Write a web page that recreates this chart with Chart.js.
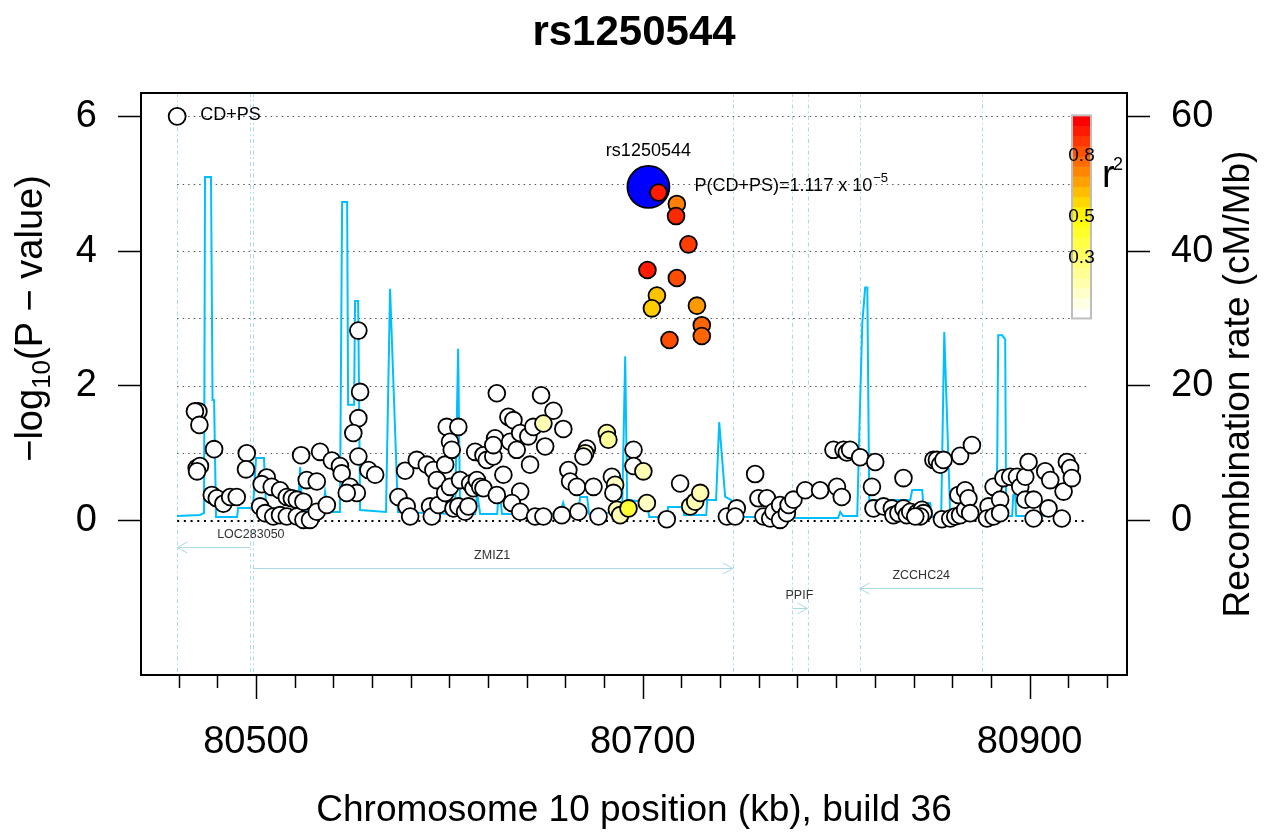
<!DOCTYPE html>
<html>
<head>
<meta charset="utf-8">
<script src="https://cdn.jsdelivr.net/npm/chart.js@4.4.1/dist/chart.umd.min.js"></script>
<style>
  html, body { margin: 0; padding: 0; background: #fff; }
  canvas { display: block; }
</style>
</head>
<body>
<canvas id="c" width="1276" height="836"></canvas>
<script>
const F = "'Liberation Sans', Arial, Helvetica, sans-serif";

// ---- data ----
const snpName = 'rs1250544';
const traitName = 'CD+PS';
const leadPos = 80702.9;
const leadP = 1.117e-5;

const snpPos = [
  80470.2, 80468.4, 80470.7, 80478.3, 80469.3, 80471.0, 80469.5, 80477.1, 80479.7, 80483.1,
  80486.6, 80490.0, 80495.2, 80494.8, 80523.3, 80533.1, 80539.2, 80543.4, 80544.3, 80505.5,
  80502.9, 80508.1, 80512.4, 80515.9, 80518.5, 80502.1, 80504.7, 80508.9, 80512.4, 80515.9,
  80521.1, 80524.5, 80527.9, 80531.4, 80536.6, 80521.1, 80524.5, 80526.2, 80531.4, 80548.6,
  80552.1, 80546.9, 80552.9, 80558.1, 80561.6, 80552.9, 80550.3, 80553.8, 80552.9, 80577.1,
  80573.6, 80577.9, 80579.7, 80583.1, 80588.3, 80591.7, 80593.5, 80597.8, 80598.6, 80604.6,
  80600.3, 80601.2, 80590.0, 80590.9, 80594.3, 80597.8, 80600.3, 80602.1, 80604.6, 80608.1,
  80609.8, 80605.5, 80610.7, 80612.4, 80614.2, 80615.9, 80617.6, 80613.3, 80617.6, 80619.3,
  80622.7, 80623.6, 80622.7, 80624.5, 80630.5, 80633.1, 80627.9, 80624.5, 80631.4, 80634.8,
  80636.6, 80640.8, 80643.4, 80641.7, 80636.6, 80632.3, 80636.6, 80644.3, 80647.4, 80653.8,
  80658.9, 80648.6, 80649.5, 80671.1, 80670.2, 80669.3, 80661.5, 80662.4, 80665.9, 80674.5,
  80681.4, 80682.2, 80684.0, 80685.7, 80684.8, 80658.1, 80666.7, 80677.1, 80648.6, 80686.6,
  80688.3, 80692.6, 80695.2, 80695.2, 80700.3, 80702.1, 80712.4, 80719.3, 80724.5, 80727.1,
  80729.7, 80743.5, 80748.6, 80747.8, 80758.1, 80759.8, 80764.2, 80762.4, 80765.9, 80767.6,
  80771.0, 80771.0, 80774.5, 80775.4, 80777.9, 80784.0, 80791.7, 80800.4, 80802.9, 80798.6,
  80803.8, 80805.5, 80807.2, 80812.4, 80820.2, 80818.5, 80819.3, 80824.5, 80828.8, 80829.6,
  80832.2, 80834.8, 80836.5, 80838.3, 80841.7, 80844.3, 80845.2, 80843.5, 80834.8, 80850.3,
  80852.1, 80853.8, 80855.5, 80864.1, 80870.2, 80840.9, 80854.7, 80859.0, 80861.6, 80864.1,
  80866.7, 80863.2, 80866.7, 80868.4, 80869.3, 80878.8, 80881.4, 80878.0, 80881.4, 80884.8,
  80884.8, 80886.5, 80890.0, 80893.5, 80895.2, 80897.8, 80899.5, 80897.8, 80902.1, 80902.1,
  80909.8, 80908.1, 80910.7, 80917.6, 80919.3, 80921.0, 80921.9, 80916.7,
  80708.1, 80717.6, 80717.2, 80723.6, 80702.4, 80717.6, 80707.3, 80704.7, 80728.0, 80730.5,
  80730.5, 80713.8
];
const snpLogP = [
  1.62, 1.62, 1.42, 1.06, 0.78, 0.81, 0.73, 0.38, 0.33, 0.25,
  0.35, 0.35, 1.00, 0.76, 0.97, 1.02, 0.89, 0.81, 0.70, 0.64,
  0.54, 0.50, 0.45, 0.35, 0.33, 0.21, 0.11, 0.06, 0.08, 0.06,
  0.06, 0.01, 0.01, 0.13, 0.23, 0.31, 0.28, 0.60, 0.58, 0.50,
  0.41, 0.41, 0.95, 0.75, 0.68, 1.52, 1.30, 1.91, 2.82, 0.74,
  0.35, 0.21, 0.06, 0.90, 0.83, 0.75, 0.60, 0.83, 1.39, 1.39,
  1.17, 1.05, 0.21, 0.06, 0.23, 0.41, 0.50, 0.18, 0.21, 0.13,
  0.21, 0.60, 0.55, 0.48, 0.60, 0.50, 0.48, 1.02, 0.97, 0.90,
  0.95, 1.22, 1.12, 1.89, 1.54, 1.49, 0.68, 0.38, 1.17, 1.05,
  1.30, 1.25, 1.39, 0.83, 0.43, 0.26, 0.13, 0.06, 1.86, 1.63,
  1.36, 1.44, 1.10, 1.07, 1.00, 0.95, 0.75, 0.58, 0.50, 0.50,
  1.30, 1.20, 0.65, 0.53, 0.41, 0.08, 0.13, 0.06, 0.06, 0.16,
  0.08, 0.18, 1.05, 0.81, 0.73, 0.26, 0.02, 0.55, 0.21, 0.28,
  0.41, 0.06, 0.18, 0.06, 0.69, 0.33, 0.33, 0.06, 0.03, 0.13,
  0.23, 0.01, 0.11, 0.23, 0.31, 0.45, 0.45, 0.50, 0.35, 1.05,
  1.05, 1.01, 1.05, 0.94, 0.87, 0.50, 0.18, 0.21, 0.18, 0.08,
  0.11, 0.18, 0.08, 0.13, 0.11, 0.16, 0.11, 0.06, 0.63, 0.90,
  0.90, 0.83, 0.90, 0.96, 1.12, 0.06, 0.02, 0.03, 0.06, 0.08,
  0.16, 0.38, 0.45, 0.33, 0.11, 0.21, 0.50, 0.03, 0.06, 0.31,
  0.11, 0.63, 0.65, 0.65, 0.50, 0.65, 0.87, 0.31, 0.31, 0.03,
  0.18, 0.73, 0.60, 0.43, 0.87, 0.78, 0.63, 0.03,
  4.87, 4.70, 4.52, 4.10, 3.72, 3.60, 3.34, 3.15, 3.19, 2.90,
  2.74, 2.68
];
const snpR2 = [
  0, 0, 0, 0, 0, 0, 0, 0, 0, 0,
  0, 0, 0, 0, 0, 0, 0, 0, 0, 0,
  0, 0, 0, 0, 0, 0, 0, 0, 0, 0,
  0, 0, 0, 0, 0, 0, 0, 0, 0, 0,
  0, 0, 0, 0, 0, 0, 0, 0, 0, 0,
  0, 0, 0, 0, 0, 0, 0, 0, 0, 0,
  0, 0, 0, 0, 0, 0, 0, 0, 0, 0,
  0, 0, 0, 0, 0, 0, 0, 0, 0, 0,
  0, 0, 0, 0, 0, 0, 0, 0, 0, 0,
  0, 0, 0, 0, 0, 0, 0, 0, 0, 0,
  0, 0.15, 0, 0, 0.12, 0, 0, 0, 0, 0,
  0.18, 0.2, 0, 0.12, 0, 0, 0, 0, 0, 0.15,
  0.15, 0.4, 0, 0, 0.15, 0.12, 0, 0, 0.12, 0.15,
  0.15, 0, 0, 0, 0, 0, 0, 0, 0, 0,
  0, 0, 0, 0, 0, 0, 0, 0, 0, 0,
  0, 0, 0, 0, 0, 0, 0, 0, 0, 0,
  0, 0, 0, 0, 0, 0, 0, 0, 0, 0,
  0, 0, 0, 0, 0, 0, 0, 0, 0, 0,
  0, 0, 0, 0, 0, 0, 0, 0, 0, 0,
  0, 0, 0, 0, 0, 0, 0, 0, 0, 0,
  0, 0, 0, 0, 0, 0, 0, 0,
  0.95, 0.75, 0.92, 0.88, 0.95, 0.85, 0.62, 0.6, 0.7, 0.8,
  0.8, 0.85
];

// recombination rate (cM/Mb)
const recPos = [
  80459.1, 80471.0, 80473.1, 80473.6, 80476.7, 80477.5, 80478.3, 80479.3, 80490.2, 80490.7,
  80498.4, 80500.0, 80504.1, 80505.2, 80521.7, 80522.8, 80523.8, 80534.7, 80535.7, 80537.2,
  80543.4, 80544.5, 80547.1, 80547.6, 80550.7, 80551.2, 80552.8, 80553.8, 80567.2, 80569.3,
  80573.4, 80602.9, 80604.5, 80605.5, 80613.3, 80614.3, 80615.9, 80624.7, 80625.7, 80627.2,
  80657.2, 80658.8, 80660.3, 80666.6, 80667.6, 80671.2, 80672.2, 80689.3, 80690.9, 80691.9,
  80702.2, 80703.3, 80712.6, 80713.1, 80720.9, 80721.4, 80732.8, 80733.3, 80737.9, 80739.5,
  80742.6, 80745.7, 80746.7, 80777.8, 80778.8, 80801.0, 80802.1, 80803.6, 80810.9, 80811.9,
  80813.5, 80815.0, 80816.1, 80817.1, 80838.3, 80839.3, 80844.5, 80845.0, 80848.6, 80849.7,
  80854.3, 80855.9, 80859.0, 80882.8, 80883.3, 80883.8, 80885.9, 80887.4, 80887.9, 80891.0,
  80891.6, 80892.6, 80893.1, 80909.7
];
const recRate = [
  0.68, 0.83, 1.13, 51.0, 51.0, 17.9, 17.9, 0.53, 0.53, 1.87,
  1.87, 9.3, 9.3, 1.87, 1.57, 7.95, 1.57, 1.28, 4.24, 1.28,
  1.28, 47.3, 47.3, 17.2, 17.2, 32.6, 32.6, 1.57, 1.28, 34.4,
  1.28, 0.98, 25.5, 0.98, 0.98, 4.09, 0.98, 0.98, 5.0, 0.98,
  0.98, 2.62, 0.98, 0.98, 3.5, 3.5, 0.98, 1.28, 24.4, 3.06,
  2.76, 0.53, 0.53, 2.02, 2.02, 0.83, 0.83, 3.06, 3.06, 14.6,
  3.5, 3.06, 0.53, 0.53, 0.39, 0.39, 1.28, 0.68, 0.68, 12.4,
  29.3, 34.6, 34.6, 3.06, 3.06, 4.54, 4.54, 2.62, 2.62, 0.53,
  0.53, 28.0, 0.68, 0.68, 9.5, 27.5, 27.5, 26.9, 0.68, 0.68,
  3.8, 3.8, 0.68, 0.68
];

const geneName = ['LOC283050', 'ZMIZ1', 'PPIF', 'ZCCHC24'];
const geneStart = [80459.3, 80498.3, 80777.4, 80812.1];
const geneEnd = [80496.9, 80746.6, 80785.2, 80875.5];
const geneStrand = ['-', '+', '+', '-'];
const geneLabelPos = [80497.3, 80622.1, 80781.0, 80844.0];

const region = [80459.2, 80930];
const xTicks = [80460, 80480, 80500, 80520, 80540, 80560, 80580, 80600, 80620, 80640, 80660, 80680,
  80700, 80720, 80740, 80760, 80780, 80800, 80820, 80840, 80860, 80880, 80900, 80920, 80940];
const xLabels = [80500, 80700, 80900];
const yTicks = [0, 2, 4, 6];
const recTicks = [0, 20, 40, 60];
const r2Labels = [0.8, 0.5, 0.3];

// ---- style ----
const geneRowOffset = [26, 47, 87, 67]; // px below the zero line
const geneColor = '#ADD8E6';

function r2Color(r) {
  if (r >= 0.5) {
    const g = Math.round(255 * (1 - r) / 0.5);
    return `rgb(255,${g},0)`;
  }
  const b = Math.round(255 * (1 - r / 0.5));
  return `rgb(255,255,${b})`;
}

function hline(ctx, x0, x1, y) {
  ctx.beginPath(); ctx.moveTo(x0, y); ctx.lineTo(x1, y); ctx.stroke();
}
function vline(ctx, x, y0, y1) {
  ctx.beginPath(); ctx.moveTo(x, y0); ctx.lineTo(x, y1); ctx.stroke();
}

const decor = {
  id: 'decor',
  beforeDatasetsDraw(chart) {
    const { ctx, chartArea: a, scales: { x, y } } = chart;
    ctx.save();
    // gene boundaries
    ctx.strokeStyle = geneColor;
    ctx.lineWidth = 1;
    ctx.setLineDash([4, 3, 1.5, 3]);
    geneStart.concat(geneEnd).forEach(v => {
      const px = Math.round(x.getPixelForValue(v)) + 0.5;
      vline(ctx, px, a.top, a.bottom);
    });
    // dotted reference lines
    const gx0 = x.getPixelForValue(region[0]), gx1 = x.getPixelForValue(region[1]);
    ctx.strokeStyle = '#555';
    ctx.setLineDash([1.5, 4]);
    for (let v = 1; v <= 6; v++) {
      hline(ctx, gx0, gx1, Math.round(y.getPixelForValue(v)) + 0.5);
    }
    ctx.strokeStyle = '#000';
    ctx.lineWidth = 2;
    ctx.setLineDash([2, 4.7]);
    const y0 = y.getPixelForValue(0);
    hline(ctx, gx0, gx1, Math.round(y0));

    // genes
    ctx.setLineDash([]);
    ctx.lineWidth = 1;
    ctx.font = '12.5px ' + F;
    ctx.textAlign = 'center';
    ctx.textBaseline = 'middle';
    geneName.forEach((g, i) => {
      const x0 = x.getPixelForValue(geneStart[i]);
      const x1 = x.getPixelForValue(geneEnd[i]);
      const yy = Math.round(y0 + geneRowOffset[i]) + 0.5;
      ctx.strokeStyle = geneColor;
      hline(ctx, x0, x1, yy);
      const tip = geneStrand[i] === '+' ? x1 : x0;
      const d = geneStrand[i] === '+' ? -10 : 10;
      ctx.beginPath();
      ctx.moveTo(tip + d, yy - 5.5); ctx.lineTo(tip, yy); ctx.lineTo(tip + d, yy + 5.5);
      ctx.stroke();
      ctx.fillStyle = '#333';
      ctx.fillText(g, x.getPixelForValue(geneLabelPos[i]), yy - 13);
    });
    ctx.restore();
  },
  afterDatasetsDraw(chart) {
    const { ctx, chartArea: a, scales: { x, y } } = chart;
    ctx.save();
    // r2 colour bar
    const top = y.getPixelForValue(6) - 1, bot = y.getPixelForValue(3);
    const bx = a.right - 55, bw = 19;
    const n = 20, h = (bot - top) / n;
    for (let i = 0; i < n; i++) {
      ctx.fillStyle = r2Color(i / (n - 1));
      ctx.fillRect(bx, bot - (i + 1) * h, bw, h + 0.5);
    }
    ctx.strokeStyle = '#BEBEBE';
    ctx.lineWidth = 2;
    ctx.strokeRect(bx, top, bw, bot - top);
    ctx.fillStyle = '#000';
    ctx.font = '19px ' + F;
    ctx.textAlign = 'center';
    ctx.textBaseline = 'middle';
    r2Labels.forEach(v => ctx.fillText(v.toFixed(1), bx + bw / 2, bot - v * (bot - top)));
    ctx.textAlign = 'left';
    ctx.textBaseline = 'alphabetic';
    ctx.font = '38px ' + F;
    ctx.fillText('r', bx + 30, top + 72);
    ctx.font = '18px ' + F;
    ctx.fillText('2', bx + 41, top + 55);

    // legend
    const lx = x.getPixelForValue(region[0]), ly = y.getPixelForValue(6);
    ctx.beginPath();
    ctx.arc(lx, ly, 8.5, 0, Math.PI * 2);
    ctx.fillStyle = '#fff'; ctx.fill();
    ctx.strokeStyle = '#000'; ctx.lineWidth = 1.8; ctx.stroke();
    ctx.fillStyle = '#000';
    ctx.font = '18px ' + F;
    ctx.textBaseline = 'middle';
    ctx.fillText(traitName, lx + 23, ly - 1);

    // lead SNP labels
    const px = x.getPixelForValue(leadPos), py = y.getPixelForValue(-Math.log10(leadP));
    ctx.textBaseline = 'alphabetic';
    ctx.textAlign = 'center';
    ctx.fillText(snpName, px, py - 31);
    const ex = Math.floor(Math.log10(leadP));
    const mant = (leadP / Math.pow(10, ex)).toFixed(3);
    ctx.textAlign = 'left';
    const s = `P(${traitName})=${mant} x 10`;
    ctx.fillText(s, px + 46, py + 4);
    const w = ctx.measureText(s).width;
    ctx.font = '13px ' + F;
    ctx.fillText(String(ex).replace('-', '\u2212'), px + 46 + w + 1, py - 5);
    ctx.restore();
  },
  afterDraw(chart) {
    const { ctx, chartArea: a, scales: { x, y } } = chart;
    ctx.save();
    // box
    ctx.strokeStyle = '#000';
    ctx.lineWidth = 2;
    ctx.strokeRect(a.left, a.top, a.right - a.left, a.bottom - a.top);
    // x ticks
    ctx.lineWidth = 1.5;
    xTicks.forEach(v => {
      const px = Math.round(x.getPixelForValue(v)) + 0.5;
      vline(ctx, px, a.bottom, a.bottom + (xLabels.includes(v) ? 24 : 13));
    });
    // title
    ctx.fillStyle = '#000';
    ctx.textAlign = 'center';
    ctx.textBaseline = 'alphabetic';
    ctx.font = 'bold 42px ' + F;
    ctx.fillText(snpName, (a.left + a.right) / 2, 45);
    // x title
    ctx.font = '37px ' + F;
    ctx.fillText('Chromosome 10 position (kb), build 36', (a.left + a.right) / 2, 821);
    // left title with subscript
    const parts = [['\u2212log', '38px ', 0], ['10', '26px ', 8], ['(P \u2212 value)', '38px ', 0]];
    let tw = 0;
    parts.forEach(p => { ctx.font = p[1] + F; tw += ctx.measureText(p[0]).width; });
    ctx.save();
    ctx.translate(42, y.getPixelForValue(3));
    ctx.rotate(-Math.PI / 2);
    ctx.textAlign = 'left';
    let cx = -tw / 2;
    parts.forEach(p => {
      ctx.font = p[1] + F;
      ctx.fillText(p[0], cx, p[2]);
      cx += ctx.measureText(p[0]).width;
    });
    ctx.restore();
    // right title
    ctx.save();
    ctx.translate(1249, (a.top + a.bottom) / 2);
    ctx.rotate(-Math.PI / 2);
    ctx.textAlign = 'center';
    ctx.font = '37px ' + F;
    ctx.fillText('Recombination rate (cM/Mb)', 0, 0);
    ctx.restore();
    ctx.restore();
  }
};

const tickFont = { family: F, size: 38 };

new Chart(document.getElementById('c'), {
  type: 'scatter',
  data: {
    datasets: [
      {
        label: traitName,
        data: snpPos.map((v, i) => ({ x: v, y: snpLogP[i] })),
        backgroundColor: snpR2.map(r2Color),
        borderColor: '#000',
        borderWidth: 1.8,
        pointRadius: 8.4,
        order: 1
      },
      {
        label: snpName,
        data: [{ x: leadPos, y: -Math.log10(leadP) }],
        backgroundColor: '#0000FF',
        borderColor: '#000',
        borderWidth: 1.8,
        pointRadius: 21,
        order: 2
      },
      {
        type: 'line',
        label: 'Recombination rate',
        data: recPos.map((v, i) => ({ x: v, y: recRate[i] })),
        yAxisID: 'y2',
        borderColor: '#00BFFF',
        borderWidth: 2,
        pointRadius: 0,
        fill: false,
        tension: 0,
        showLine: true,
        order: 3
      }
    ]
  },
  options: {
    responsive: false,
    animation: false,
    devicePixelRatio: 1,
    events: [],
    layout: { padding: { top: 93, left: 0, right: 0, bottom: 0 } },
    plugins: { legend: { display: false }, title: { display: false }, tooltip: { enabled: false } },
    scales: {
      x: {
        type: 'linear',
        min: 80440.5,
        max: 80950.4,
        afterBuildTicks: s => { s.ticks = xTicks.map(v => ({ value: v })); },
        afterFit: s => { s.height = 161; },
        ticks: {
          callback: v => xLabels.includes(v) ? String(v) : '',
          font: tickFont, color: '#000', padding: 37,
          autoSkip: false, maxRotation: 0, minRotation: 0
        },
        grid: { display: false },
        border: { display: false }
      },
      y: {
        position: 'left',
        min: -2.293,
        max: 6.347,
        afterBuildTicks: s => { s.ticks = yTicks.map(v => ({ value: v })); },
        afterFit: s => { s.width = 141; },
        ticks: { font: tickFont, color: '#000', padding: 21 },
        grid: { drawOnChartArea: false, tickLength: 23, tickColor: '#000', tickWidth: 1.5 },
        border: { display: false }
      },
      y2: {
        position: 'right',
        min: -22.93,
        max: 63.47,
        afterBuildTicks: s => { s.ticks = recTicks.map(v => ({ value: v })); },
        afterFit: s => { s.width = 149; },
        ticks: { font: tickFont, color: '#000', padding: 21 },
        grid: { drawOnChartArea: false, tickLength: 23, tickColor: '#000', tickWidth: 1.5 },
        border: { display: false }
      }
    }
  },
  plugins: [decor]
});
</script>
</body>
</html>
